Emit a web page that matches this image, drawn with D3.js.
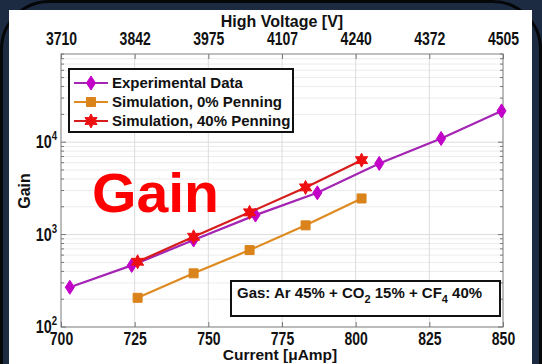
<!DOCTYPE html>
<html>
<head>
<meta charset="utf-8">
<script src="https://cdn.jsdelivr.net/npm/d3@7"></script>
<style>
  body { margin: 0; background: #1d2b42; }
  svg { display: block; }
  text { font-family: "Liberation Sans", Arial, sans-serif; font-weight: bold; fill: #111; }
</style>
</head>
<body>
<div id="chart"></div>
<script>
// data
const currentTicks = [700, 725, 750, 775, 800, 825, 850]
const voltageLabels = ["3710", "3842", "3975", "4107", "4240", "4372", "4505"]
const gainTicks = [100, 1000, 10000]
const gainExponents = ["2", "3", "4"]

const expCurrent = [703, 724, 745, 766, 787, 808, 829, 849.5]
const expGain = [269, 464, 873, 1625, 2830, 5890, 10960, 21800]

const simCurrent = [726, 745, 764, 783, 802]
const sim0Gain = [207, 381, 680, 1259, 2460]
const sim40Gain = [508, 947, 1740, 3240, 6390]

const seriesNames = ["Experimental Data", "Simulation, 0% Penning", "Simulation, 40% Penning"]

const W = 542, H = 364
const plotL = 61, plotR = 503, plotT = 54, plotB = 327
const squeeze = "scale(0.8,1)"   // tick labels are a condensed face in the original

const x = d3.scaleLinear().domain([700, 850]).range([plotL, plotR])
const y = d3.scaleLog().domain([100, 90000]).range([plotB, plotT])

const svg = d3.select("#chart").append("svg")
    .attr("width", W)
    .attr("height", H)

// background panel
svg.append("rect").attr("width", W).attr("height", H).attr("fill", "#1d2b42")
svg.append("rect")
    .attr("x", 1.5).attr("y", 1.5).attr("width", W - 3).attr("height", H + 60)
    .attr("rx", 48)
    .attr("fill", "none").attr("stroke", "#050608").attr("stroke-width", 3)
svg.append("rect")
    .attr("x", 9).attr("y", 10).attr("width", 523).attr("height", H)
    .attr("fill", "#ffffff")

// grid
const minor = []
gainTicks.forEach(d => { for (let k = 2; k <= 9; k++) if (d * k <= 90000) minor.push(d * k) })

svg.append("g").selectAll("line").data(minor).enter().append("line")
    .attr("x1", plotL).attr("x2", plotR)
    .attr("y1", d => y(d)).attr("y2", d => y(d))
    .attr("stroke", "#ececec").attr("stroke-width", 1)
svg.append("g").selectAll("line").data(gainTicks).enter().append("line")
    .attr("x1", plotL).attr("x2", plotR)
    .attr("y1", d => y(d)).attr("y2", d => y(d))
    .attr("stroke", "#dcdcdc").attr("stroke-width", 1)
svg.append("g").selectAll("line").data(currentTicks).enter().append("line")
    .attr("x1", d => x(d)).attr("x2", d => x(d))
    .attr("y1", plotT).attr("y2", plotB)
    .attr("stroke", "#dcdcdc").attr("stroke-width", 1)

// axes box
svg.append("rect")
    .attr("x", plotL).attr("y", plotT).attr("width", plotR - plotL).attr("height", plotB - plotT)
    .attr("fill", "none").attr("stroke", "#8a8a8a").attr("stroke-width", 1)

// bottom axis
const xAxis = d3.axisBottom(x).tickValues(currentTicks).tickSize(-5).tickPadding(6)
const gx = svg.append("g")
    .attr("transform", `translate(0, ${plotB})`)
    .call(xAxis)
gx.select(".domain").remove()
gx.selectAll(".tick line").attr("stroke", "#777")
gx.selectAll("text").attr("font-size", 17.5).attr("fill", "#111").attr("transform", squeeze)

// top axis with voltage labels
const xTop = d3.axisTop(x).tickValues(currentTicks).tickSize(-5).tickPadding(9)
    .tickFormat((d, i) => voltageLabels[i])
const gt = svg.append("g")
    .attr("transform", `translate(0, ${plotT})`)
    .call(xTop)
gt.select(".domain").remove()
gt.selectAll(".tick line").attr("stroke", "#777")
gt.selectAll("text").attr("font-size", 17.5).attr("fill", "#111").attr("transform", squeeze)

// left and right minor/major ticks
const allY = gainTicks.concat(minor)
svg.append("g").selectAll("line").data(allY).enter().append("line")
    .attr("x1", plotL).attr("x2", d => plotL + (gainTicks.includes(d) ? 5 : 3))
    .attr("y1", d => y(d)).attr("y2", d => y(d))
    .attr("stroke", "#777")
svg.append("g").selectAll("line").data(allY).enter().append("line")
    .attr("x1", plotR).attr("x2", d => plotR - (gainTicks.includes(d) ? 5 : 3))
    .attr("y1", d => y(d)).attr("y2", d => y(d))
    .attr("stroke", "#777")

// y tick labels 10^n
const yl = svg.append("g").selectAll("g").data(gainTicks).enter().append("g")
    .attr("transform", d => `translate(${plotL - 4}, ${y(d) + 6}) ${squeeze}`)
    .append("text")
    .attr("text-anchor", "end")
    .attr("font-size", 18)
yl.append("tspan").text("10")
yl.append("tspan").attr("dy", -8).attr("font-size", 12).text((d, i) => gainExponents[i])

// axis titles
svg.append("text").attr("x", 282).attr("y", 27).attr("text-anchor", "middle")
    .attr("font-size", 16).text("High Voltage [V]")
svg.append("text").attr("x", 280).attr("y", 360).attr("text-anchor", "middle")
    .attr("font-size", 15.5).text("Current [\u03BCAmp]")
svg.append("text").attr("transform", "translate(30, 191) rotate(-90)")
    .attr("text-anchor", "middle").attr("font-size", 16).text("Gain")

// markers
const diamond = "M0,-7L4.5,0L0,7L-4.5,0Z"
const square = "M-4.5,-4.5H4.5V4.5H-4.5Z"
function hexagram(r) {
    let p = ""
    for (let i = 0; i < 12; i++) {
        const a = Math.PI / 6 * i - Math.PI / 2
        const rr = i % 2 === 0 ? r : r * 0.55
        p += (i ? "L" : "M") + (rr * Math.cos(a)).toFixed(2) + "," + (rr * Math.sin(a)).toFixed(2)
    }
    return p + "Z"
}
const star = hexagram(7)

const series = [
    { cur: expCurrent, gain: expGain, line: "#a424b4", mark: "#c200c8", path: diamond },
    { cur: simCurrent, gain: sim0Gain, line: "#df8a20", mark: "#d9831a", path: square },
    { cur: simCurrent, gain: sim40Gain, line: "#d61c1c", mark: "#ee1010", path: star }
]

const line = d3.line().x(d => x(d[0])).y(d => y(d[1]))

series.forEach(s => {
    const pts = s.cur.map((c, i) => [c, s.gain[i]])
    svg.append("path").datum(pts)
        .attr("d", line)
        .attr("fill", "none").attr("stroke", s.line).attr("stroke-width", 2.2)
    svg.append("g").selectAll("path").data(pts).enter().append("path")
        .attr("transform", d => `translate(${x(d[0])}, ${y(d[1])})`)
        .attr("d", s.path)
        .attr("fill", s.mark).attr("stroke", s.mark).attr("stroke-width", 1)
})

// big red label
svg.append("text").attr("x", 92).attr("y", 212)
    .attr("font-size", 55).attr("textLength", 127).attr("lengthAdjust", "spacingAndGlyphs")
    .style("fill", "#ff0000").text("Gain")

// legend
const lg = svg.append("g")
lg.append("rect").attr("x", 69).attr("y", 69).attr("width", 224).attr("height", 63)
    .attr("fill", "#fff").attr("stroke", "#111").attr("stroke-width", 2)
seriesNames.forEach((name, i) => {
    const yy = 83 + i * 19
    const s = series[i]
    lg.append("line").attr("x1", 74).attr("x2", 108).attr("y1", yy).attr("y2", yy)
        .attr("stroke", s.line).attr("stroke-width", 2.2)
    lg.append("path").attr("transform", `translate(91, ${yy})`).attr("d", s.path)
        .attr("fill", s.mark).attr("stroke", s.mark)
    lg.append("text").attr("x", 112).attr("y", yy + 5).attr("font-size", 15).text(name)
})

// gas box
svg.append("rect").attr("x", 231).attr("y", 281).attr("width", 269).attr("height", 35)
    .attr("fill", "#fff").attr("stroke", "#111").attr("stroke-width", 2)
const gas = svg.append("text").attr("x", 237).attr("y", 298).attr("font-size", 15)
gas.append("tspan").text("Gas: Ar 45% + CO")
gas.append("tspan").attr("dy", 5).attr("font-size", 11).text("2")
gas.append("tspan").attr("dy", -5).text(" 15% + CF")
gas.append("tspan").attr("dy", 5).attr("font-size", 11).text("4")
gas.append("tspan").attr("dy", -5).text(" 40%")
</script>
</body>
</html>
